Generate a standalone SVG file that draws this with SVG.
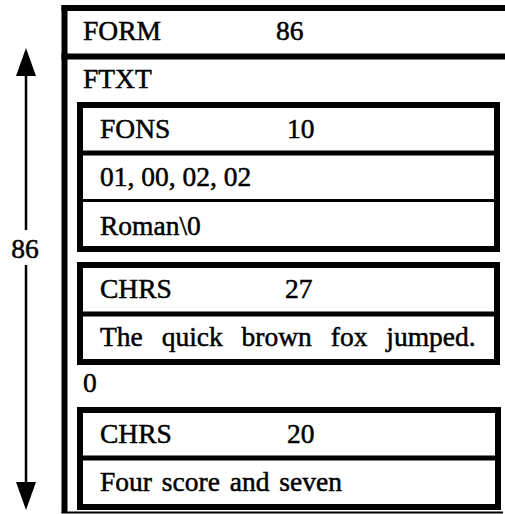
<svg xmlns="http://www.w3.org/2000/svg" width="505" height="514" viewBox="0 0 505 514">
<style>
text{font-family:"Liberation Serif","Times New Roman",serif;font-size:27.5px;fill:#000;stroke:#000;stroke-width:0.5}
.box{fill:#fff;stroke:#000;stroke-width:6}
.thick{stroke:#000;stroke-width:5}
.thin{stroke:#000;stroke-width:3}
.frame{stroke:#000;stroke-width:6;fill:none}
.dim{stroke:#000;stroke-width:2.5}
.head{fill:#000}
</style>
<rect width="505" height="514" fill="#fff"/>
<g id="form">
<line class="frame" x1="64.5" y1="5" x2="64.5" y2="513"/>
<line class="frame" x1="61.5" y1="8" x2="505" y2="8"/>
<line class="frame" x1="61.5" y1="56.5" x2="505" y2="56.5"/>
<line stroke="#000" stroke-width="2" x1="61.5" y1="512.5" x2="503" y2="512.5"/>
<text x="83" y="40">FORM</text>
<text x="276" y="40">86</text>
</g>
<g id="ftxt">
<text x="83" y="88">FTXT</text>
<text x="83" y="392">0</text>
</g>
<g id="fons">
<rect class="box" x="80" y="105" width="417" height="144"/>
<line class="thick" x1="80" y1="153" x2="497" y2="153"/>
<line class="thin" x1="80" y1="200.5" x2="497" y2="200.5"/>
<text x="100" y="138">FONS</text>
<text x="287" y="138">10</text>
<text x="100" y="186">01, 00, 02, 02</text>
<text x="100" y="235">Roman\0</text>
</g>
<g id="chrs1">
<rect class="box" x="80" y="265" width="417" height="97"/>
<line class="thick" x1="80" y1="314" x2="497" y2="314"/>
<text x="100" y="298">CHRS</text>
<text x="285" y="298">27</text>
<text x="100" y="346" word-spacing="12">The quick brown fox jumped.</text>
</g>
<g id="chrs2">
<rect class="box" x="80" y="410" width="418" height="97"/>
<line class="thick" x1="80" y1="458" x2="498" y2="458"/>
<text x="100" y="443">CHRS</text>
<text x="287" y="443">20</text>
<text x="100" y="491" word-spacing="3">Four score and seven</text>
</g>
<g id="connectors">
<line class="dim" x1="26" y1="230" x2="26" y2="72"/>
<polygon class="head" points="26,48 36,76 16,76"/>
<line class="dim" x1="26" y1="265" x2="26" y2="486"/>
<polygon class="head" points="26,510 36,482 16,482"/>
<text x="25" y="258" text-anchor="middle">86</text>
</g>
</svg>
